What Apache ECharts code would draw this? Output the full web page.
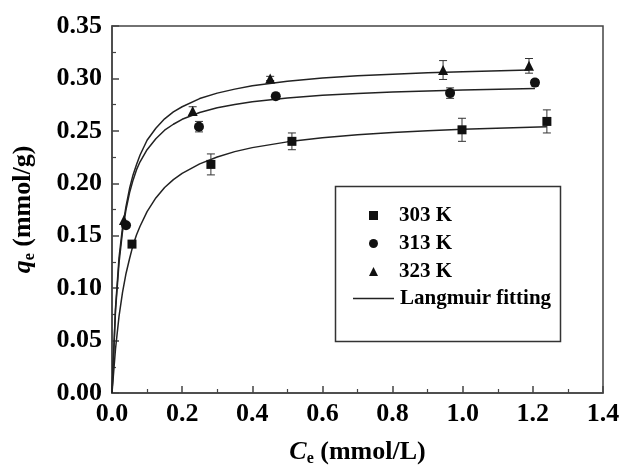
<!DOCTYPE html>
<html>
<head>
    <meta charset="utf-8" />
    <title>Langmuir isotherms</title>
    <script src="https://cdn.jsdelivr.net/npm/echarts@6/dist/echarts.min.js"></script>
</head>
<body style="margin:0;background:#fff">
    <div id="main" style="width:623px;height:469px;"></div>
    <script type="text/javascript">
        // measured points (Ce, qe) and error bars
        var x303 = [0.057, 0.282, 0.513, 0.998, 1.240];
        var q303 = [0.142, 0.218, 0.240, 0.251, 0.259];
        var e303 = [0, 0.010, 0.008, 0.011, 0.011];

        var x313 = [0.040, 0.248, 0.467, 0.964, 1.206];
        var q313 = [0.160, 0.254, 0.283, 0.286, 0.296];
        var e313 = [0, 0.005, 0.003, 0.005, 0.003];

        var x323 = [0.034, 0.230, 0.451, 0.944, 1.189];
        var q323 = [0.165, 0.269, 0.300, 0.308, 0.312];
        var e323 = [0, 0.004, 0.002, 0.009, 0.007];

        // fitted curves
        var fitX303 = [0, 0.01, 0.02, 0.03, 0.04, 0.05, 0.06, 0.07, 0.08, 0.1, 0.125, 0.15, 0.175, 0.2, 0.25, 0.3, 0.35, 0.4, 0.5, 0.6, 0.7, 0.8, 0.9, 1.0, 1.24];
        var fit303 = [0, 0.042, 0.073, 0.096, 0.114, 0.128, 0.141, 0.151, 0.159, 0.173, 0.186, 0.196, 0.2035, 0.2095, 0.2185, 0.225, 0.2302, 0.234, 0.2395, 0.2434, 0.2463, 0.2485, 0.2502, 0.2516, 0.254];
        var fitX313 = [0, 0.01, 0.02, 0.03, 0.04, 0.05, 0.06, 0.07, 0.08, 0.1, 0.125, 0.15, 0.175, 0.2, 0.25, 0.3, 0.35, 0.4, 0.5, 0.6, 0.7, 0.8, 0.9, 1.0, 1.206];
        var fit313 = [0, 0.0786, 0.124, 0.154, 0.175, 0.191, 0.203, 0.213, 0.2205, 0.232, 0.2425, 0.2506, 0.2563, 0.261, 0.2675, 0.272, 0.2751, 0.2777, 0.2814, 0.284, 0.2857, 0.287, 0.2881, 0.289, 0.2903];
        var fitX323 = [0, 0.01, 0.02, 0.03, 0.04, 0.05, 0.06, 0.07, 0.08, 0.1, 0.125, 0.15, 0.175, 0.2, 0.25, 0.3, 0.35, 0.4, 0.5, 0.6, 0.7, 0.8, 0.9, 1.0, 1.189];
        var fit323 = [0, 0.081, 0.129, 0.158, 0.178, 0.195, 0.208, 0.218, 0.227, 0.241, 0.2525, 0.2615, 0.2681, 0.273, 0.2808, 0.286, 0.2898, 0.293, 0.2974, 0.3004, 0.3025, 0.304, 0.3053, 0.3064, 0.308];

        var xTicks = [0, 1.4, 0.2];
        var yTicks = [0, 0.35, 0.05];

        var ink = '#111';
        var font = 'Liberation Serif';

        function pairs(xs, ys) {
            return xs.map(function (x, i) { return [x, ys[i]]; });
        }

        function errData(xs, ys, es) {
            return xs.map(function (x, i) { return [x, ys[i], es[i]]; });
        }

        function errorBars(params, api) {
            var x = api.value(0), y = api.value(1), e = api.value(2);
            if (!e) return null;
            var top = api.coord([x, y + e]);
            var bot = api.coord([x, y - e]);
            var w = 4;
            var st = { stroke: '#333', lineWidth: 1 };
            return {
                type: 'group',
                children: [
                    { type: 'line', shape: { x1: top[0], y1: top[1], x2: bot[0], y2: bot[1] }, style: st },
                    { type: 'line', shape: { x1: top[0] - w, y1: top[1], x2: top[0] + w, y2: top[1] }, style: st },
                    { type: 'line', shape: { x1: bot[0] - w, y1: bot[1], x2: bot[0] + w, y2: bot[1] }, style: st }
                ]
            };
        }

        function fitLine(data) {
            return {
                name: 'Langmuir fitting', type: 'line', data: data,
                symbol: 'none', smooth: false,
                lineStyle: { color: '#222', width: 1.5 }, itemStyle: { color: '#222' },
                z: 2, silent: true
            };
        }

        function errSeries(data) {
            return { type: 'custom', renderItem: errorBars, data: data, z: 3, silent: true };
        }

        var myChart = echarts.init(document.getElementById('main'));

        var legendText = { fontFamily: font, fontWeight: 'bold', fontSize: 21, color: '#000', lineHeight: 21 };

        var axisCommon = {
            axisLine: { lineStyle: { color: '#444', width: 1.5 } },
            axisTick: { inside: true, length: 7, lineStyle: { color: '#444', width: 1.5 } },
            minorTick: { show: true, splitNumber: 2, length: 4, lineStyle: { color: '#444', width: 1.2 } },
            splitLine: { show: false }
        };

        var subRich = {
            i: { fontFamily: font, fontWeight: 'bold', fontStyle: 'italic', fontSize: 26, lineHeight: 30 },
            s: { fontFamily: font, fontWeight: 'bold', fontSize: 16, lineHeight: 16, verticalAlign: 'bottom' }
        };

        var option = {
            animation: false,
            backgroundColor: '#fff',
            grid: {
                left: 112, right: 20, top: 26, bottom: 76,
                containLabel: false, outerBoundsMode: 'none',
                show: true, borderColor: '#444', borderWidth: 1.5
            },
            legend: [{
                orient: 'vertical', left: 364, top: 200,
                itemWidth: 9, itemHeight: 9, itemGap: 7,
                data: [
                    { name: '303 K', icon: 'rect' },
                    { name: '313 K', icon: 'circle' },
                    { name: '323 K', icon: 'triangle' }
                ],
                textStyle: Object.assign({ padding: [0, 0, 0, 16] }, legendText)
            }, {
                orient: 'vertical', left: 348, top: 283,
                itemWidth: 41, itemHeight: 1.5,
                data: [{ name: 'Langmuir fitting', icon: 'rect' }],
                textStyle: Object.assign({ padding: [0, 0, 0, 1] }, legendText)
            }],
            graphic: [{
                type: 'rect', left: 333, top: 184,
                shape: { width: 225, height: 155 },
                style: { fill: 'none', stroke: '#333', lineWidth: 1.5 },
                z: 0
            }],
            xAxis: Object.assign({}, axisCommon, {
                type: 'value', min: xTicks[0], max: xTicks[1], interval: xTicks[2],
                name: '{i|C}{s|e} (mmol/L)', nameLocation: 'middle', nameGap: 44,
                nameTextStyle: { fontFamily: font, fontWeight: 'bold', fontSize: 26, color: '#000', rich: subRich },
                axisLabel: {
                    fontFamily: font, fontWeight: 'bold', fontSize: 26, color: '#000', margin: 8,
                    formatter: function (v) { return v.toFixed(1); }
                }
            }),
            yAxis: Object.assign({}, axisCommon, {
                type: 'value', min: yTicks[0], max: yTicks[1], interval: yTicks[2],
                name: '{i|q}{s|e} (mmol/g)', nameLocation: 'middle', nameGap: 74,
                nameTextStyle: { fontFamily: font, fontWeight: 'bold', fontSize: 26, color: '#000', rich: subRich },
                axisLabel: {
                    fontFamily: font, fontWeight: 'bold', fontSize: 26, color: '#000', margin: 10,
                    formatter: function (v) { return v.toFixed(2); }
                }
            }),
            series: [
                fitLine(pairs(fitX303, fit303)),
                fitLine(pairs(fitX313, fit313)),
                fitLine(pairs(fitX323, fit323)),
                errSeries(errData(x303, q303, e303)),
                errSeries(errData(x313, q313, e313)),
                errSeries(errData(x323, q323, e323)),
                { name: '303 K', type: 'scatter', symbol: 'rect', symbolSize: 9, data: pairs(x303, q303), itemStyle: { color: ink, opacity: 1 }, z: 4 },
                { name: '313 K', type: 'scatter', symbol: 'circle', symbolSize: 10, data: pairs(x313, q313), itemStyle: { color: ink, opacity: 1 }, z: 4 },
                { name: '323 K', type: 'scatter', symbol: 'triangle', symbolSize: 10, data: pairs(x323, q323), itemStyle: { color: ink, opacity: 1 }, z: 4 }
            ]
        };

        myChart.setOption(option);
    </script>
</body>
</html>
